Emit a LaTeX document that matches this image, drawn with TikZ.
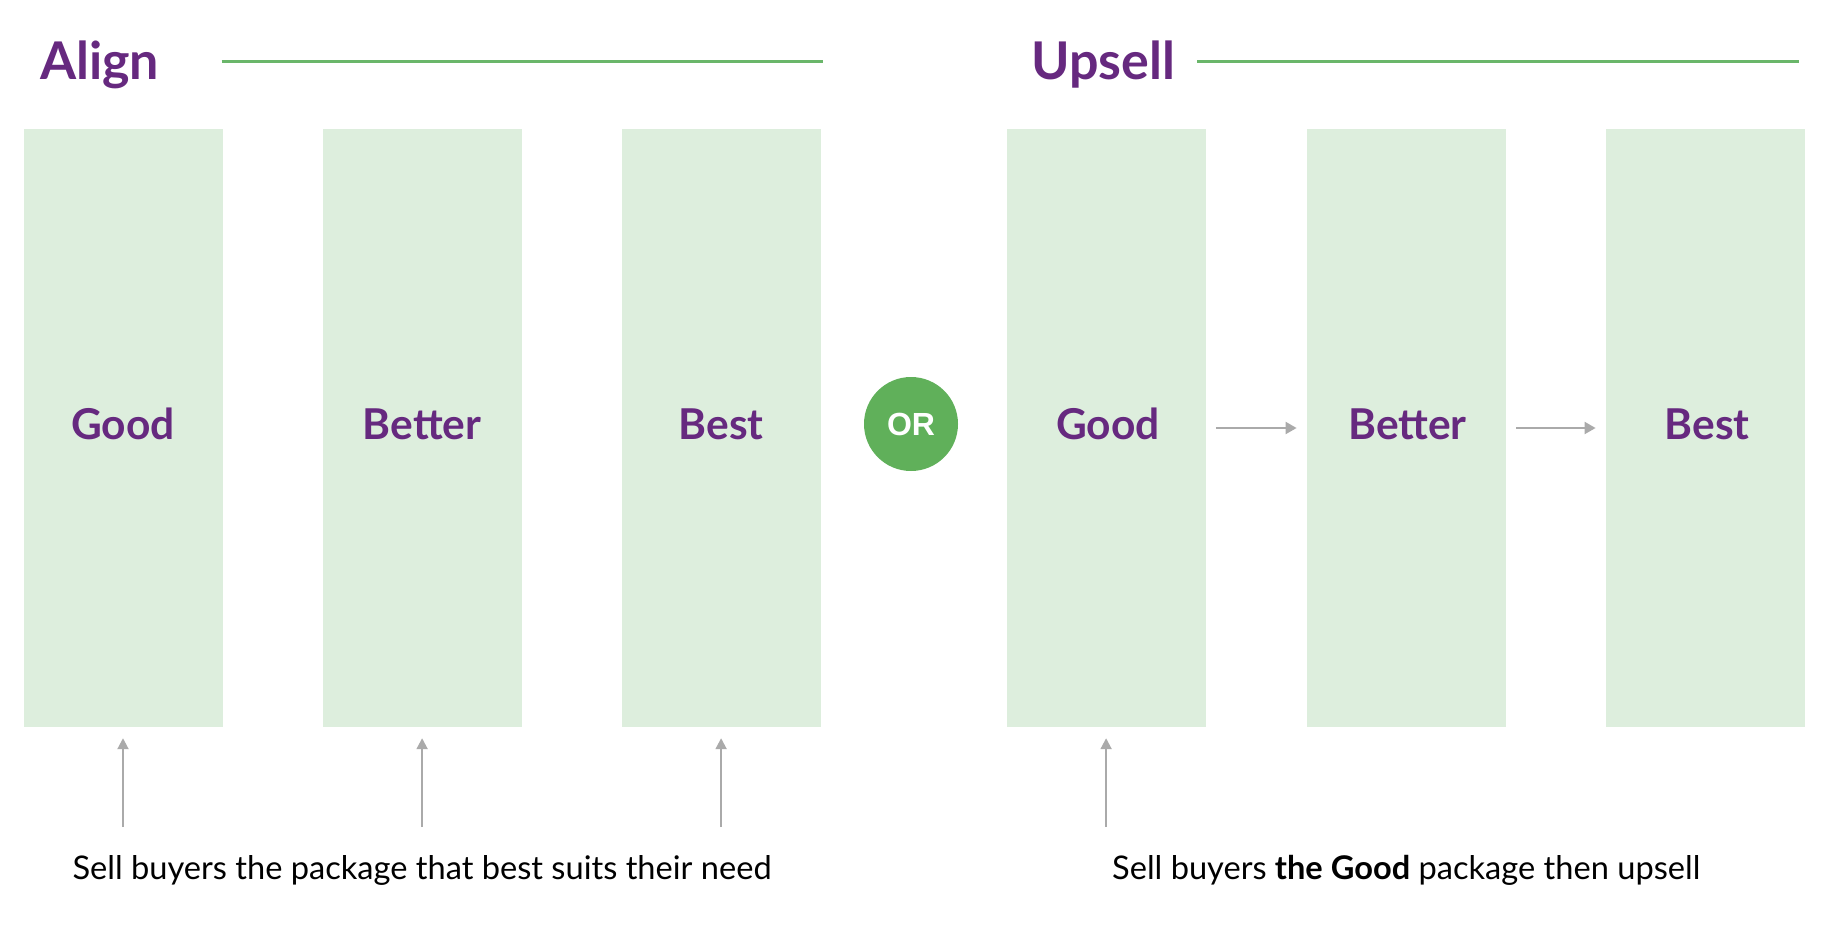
\documentclass[tikz,border=0pt]{standalone}
\usepackage{fontspec}
\setmainfont{Lato}
\newfontfamily\orfont{Liberation Sans}
\usetikzlibrary{arrows.meta}
\definecolor{purp}{HTML}{66297F}
\definecolor{gline}{HTML}{6AB66A}
\definecolor{orgreen}{HTML}{60B05A}
\definecolor{boxfill}{HTML}{DDEEDD}
\definecolor{arrgray}{HTML}{AAAAAA}
\tikzset{
  pkg/.style={rectangle, fill=boxfill, draw=none, inner sep=0pt, minimum width=199pt, minimum height=598pt},
  lbl/.style={anchor=base, inner sep=0pt, text=purp, font=\fontsize{42.5}{50}\selectfont\bfseries},
  ttl/.style={anchor=base west, inner sep=0pt, text=purp, font=\fontsize{52}{60}\selectfont\bfseries},
  rule/.style={draw=gline, line width=3.8pt},
  ornode/.style={circle, fill=orgreen, inner sep=0pt, minimum size=94pt, text=white, font=\orfont\fontsize{32}{36}\selectfont\bfseries},
  harrow/.style={draw=arrgray, line width=2pt, -{Triangle[length=11pt,width=12pt]}},
  varrow/.style={draw=arrgray, line width=2pt, -{Triangle[length=11pt,width=11pt]}},
  note/.style={anchor=base, inner sep=0pt, text=black, font=\fontsize{32.6}{38}\selectfont}
}
\begin{document}
\begin{tikzpicture}[x=1pt,y=-1pt]
\useasboundingbox (0,0) rectangle (1846,926);
% titles
\node[ttl] (talign) at (40,79) {Align};
\node[ttl] (tupsell) at (1031,79) {Upsell};
\coordinate (la1) at (221.6,61.5);
\coordinate (la2) at (823,61.5);
\coordinate (lu1) at (1197,61.5);
\coordinate (lu2) at (1799,61.5);
\draw[rule] (la1) -- (la2);
\draw[rule] (lu1) -- (lu2);
% boxes
\node[pkg] (g1) at (123,428) {};
\node[pkg] (g2) at (422.1,428) {};
\node[pkg] (g3) at (721.1,428) {};
\node[pkg] (g4) at (1106.1,428) {};
\node[pkg] (g5) at (1406.3,428) {};
\node[pkg] (g6) at (1705.3,428) {};
% labels
\node[lbl] (l1) at (123,439) {Good};
\node[lbl] (l2) at (422.1,439) {Better};
\node[lbl] (l3) at (721.1,439) {Best};
\node[lbl] (l4) at (1108,439) {Good};
\node[lbl] (l5) at (1407.5,439) {Better};
\node[lbl] (l6) at (1707,439) {Best};
% OR
\node[ornode] (or) at (911,424) {OR};
% horizontal arrows
\draw[harrow] ([xshift=10pt]g4.east) -- ([xshift=-10pt]g5.west);
\draw[harrow] ([xshift=10pt]g5.east) -- ([xshift=-10pt]g6.west);
% vertical arrows
\foreach \b in {g1,g2,g3,g4}{
  \draw[varrow] ([yshift=-100pt]\b.south) -- ([yshift=-11pt]\b.south);
}
% notes
\node[note] (n1) at (422.1,879) {Sell buyers the package that best suits their need};
\node[note] (n2) at (1406.3,879) {Sell buyers \textbf{the Good} package then upsell};
\end{tikzpicture}
\end{document}
